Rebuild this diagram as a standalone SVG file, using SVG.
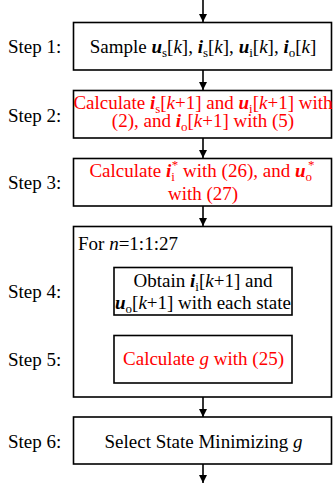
<svg xmlns="http://www.w3.org/2000/svg" width="333" height="491" viewBox="0 0 333 491" font-family="'Liberation Serif', 'DejaVu Serif', serif" font-size="19">
  <style>
    text { font-family: 'Liberation Serif', 'DejaVu Serif', serif; font-size: 19px; fill: #000; }
    .red { fill: #ff0000; }
    .bi { font-weight: bold; font-style: italic; }
    .it { font-style: italic; }
    .sm { font-size: 13px; }
    .box { fill: #fff; stroke: #000; stroke-width: 1.6; }
    .conn { stroke: #000; stroke-width: 1.6; fill: none; }
  </style>
  <defs>
    <marker id="arrow" viewBox="0 0 8 8" refX="8" refY="4" markerWidth="8" markerHeight="8" markerUnits="userSpaceOnUse" orient="auto">
      <path d="M0,0 L8,4 L0,8 Z" fill="#000"/>
    </marker>
  </defs>

  <rect width="333" height="491" fill="#fff"/>

  <!-- step labels -->
  <g id="labels">
    <text x="8" y="53">Step 1:</text>
    <text x="8" y="122">Step 2:</text>
    <text x="8" y="189">Step 3:</text>
    <text x="8" y="298">Step 4:</text>
    <text x="8" y="366">Step 5:</text>
    <text x="8" y="448">Step 6:</text>
  </g>

  <!-- connectors -->
  <g id="connectors" class="conn" marker-end="url(#arrow)">
    <line x1="203" y1="0" x2="203" y2="22"/>
    <line x1="203" y1="70" x2="203" y2="90"/>
    <line x1="203" y1="138" x2="203" y2="158"/>
    <line x1="203" y1="206" x2="203" y2="226"/>
    <line x1="203" y1="315" x2="203" y2="335"/>
    <line x1="203" y1="397" x2="203" y2="417"/>
    <line x1="203" y1="464" x2="203" y2="483"/>
  </g>

  <g id="step1">
    <rect class="box" x="73.5" y="22.5" width="258" height="47.5"/>
    <text x="203" y="53" text-anchor="middle">Sample <tspan class="bi">u</tspan><tspan class="sm" dy="4">s</tspan><tspan dy="-4">[</tspan><tspan class="it">k</tspan>], <tspan class="bi">i</tspan><tspan class="sm" dy="4">s</tspan><tspan dy="-4">[</tspan><tspan class="it">k</tspan>], <tspan class="bi">u</tspan><tspan class="sm" dy="4">i</tspan><tspan dy="-4">[</tspan><tspan class="it">k</tspan>], <tspan class="bi">i</tspan><tspan class="sm" dy="4">o</tspan><tspan dy="-4">[</tspan><tspan class="it">k</tspan>]</text>
  </g>

  <g id="step2">
    <rect class="box" x="73.5" y="90.5" width="258" height="47.5"/>
    <text class="red" x="203" y="109" text-anchor="middle">Calculate <tspan class="bi">i</tspan><tspan class="sm" dy="4">s</tspan><tspan dy="-4">[</tspan><tspan class="it">k</tspan>+1] and <tspan class="bi">u</tspan><tspan class="sm" dy="4">i</tspan><tspan dy="-4">[</tspan><tspan class="it">k</tspan>+1] with</text>
    <text class="red" x="203" y="127" text-anchor="middle">(2), and <tspan class="bi">i</tspan><tspan class="sm" dy="4">o</tspan><tspan dy="-4">[</tspan><tspan class="it">k</tspan>+1] with (5)</text>
  </g>

  <g id="step3">
    <rect class="box" x="73.5" y="158.5" width="258" height="47.5"/>
    <text class="red" x="202" y="177" text-anchor="middle">Calculate <tspan class="bi">i</tspan><tspan class="sm" dy="4">i</tspan><tspan class="sm" dx="-3" dy="-12">*</tspan><tspan dy="8"> with (26), and </tspan><tspan class="bi">u</tspan><tspan class="sm" dy="4">o</tspan><tspan class="sm" dx="-4" dy="-12">*</tspan></text>
    <text class="red" x="203" y="200" text-anchor="middle">with (27)</text>
  </g>

  <g id="loop">
    <rect class="box" x="73.5" y="226.5" width="258" height="170.5"/>
    <text x="78" y="250">For <tspan class="it">n</tspan>=1:1:27</text>
  </g>

  <g id="step4">
    <rect class="box" x="114" y="267.5" width="178" height="47.5"/>
    <text x="203" y="287" text-anchor="middle">Obtain <tspan class="bi">i</tspan><tspan class="sm" dy="4">i</tspan><tspan dy="-4">[</tspan><tspan class="it">k</tspan>+1] and</text>
    <text x="203" y="309" text-anchor="middle"><tspan class="bi">u</tspan><tspan class="sm" dy="4">o</tspan><tspan dy="-4">[</tspan><tspan class="it">k</tspan>+1] with each state</text>
  </g>

  <g id="step5">
    <rect class="box" x="114" y="335.5" width="178" height="47.5"/>
    <text class="red" x="203.5" y="365" text-anchor="middle">Calculate <tspan class="it">g</tspan> with (25)</text>
  </g>

  <g id="step6">
    <rect class="box" x="73.5" y="417" width="258" height="47"/>
    <text x="203.5" y="448" text-anchor="middle">Select State Minimizing <tspan class="it">g</tspan></text>
  </g>
</svg>
